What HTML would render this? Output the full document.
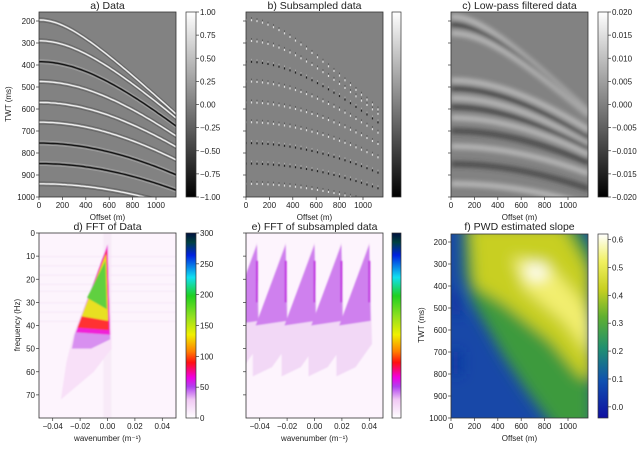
<!DOCTYPE html>
<html><head><meta charset="utf-8"><style>
html,body{margin:0;padding:0;background:#fff}
svg text{font-family:"Liberation Sans","DejaVu Sans",sans-serif;fill:#222}
</style></head><body>
<svg id="fig" width="640" height="458" viewBox="0 0 640 458" xmlns="http://www.w3.org/2000/svg">
<defs>
<linearGradient id="gGray" x1="0" y1="1" x2="0" y2="0"><stop offset="0" stop-color="#000"/><stop offset="1" stop-color="#fff"/></linearGradient>
<linearGradient id="gNcar" x1="0" y1="1" x2="0" y2="0">
<stop offset="0" stop-color="#fff"/><stop offset="0.1" stop-color="#f0c8f4"/><stop offset="0.17" stop-color="#b040f0"/><stop offset="0.22" stop-color="#f000e0"/><stop offset="0.3" stop-color="#ff1010"/><stop offset="0.36" stop-color="#ff8000"/><stop offset="0.45" stop-color="#f0f000"/><stop offset="0.55" stop-color="#90e020"/><stop offset="0.66" stop-color="#20d020"/><stop offset="0.76" stop-color="#10e0f0"/><stop offset="0.88" stop-color="#0020e0"/><stop offset="0.95" stop-color="#004040"/><stop offset="1" stop-color="#001040"/></linearGradient>
<linearGradient id="gSlope" x1="0" y1="1" x2="0" y2="0">
<stop offset="0" stop-color="#1010a0"/><stop offset="0.2" stop-color="#1050b0"/><stop offset="0.38" stop-color="#209070"/><stop offset="0.55" stop-color="#60b030"/><stop offset="0.7" stop-color="#c8d020"/><stop offset="0.85" stop-color="#f0f060"/><stop offset="1" stop-color="#ffffff"/></linearGradient>
<filter id="blurC" x="-10%" y="-10%" width="120%" height="120%"><feGaussianBlur stdDeviation="2.4"/></filter>
<filter id="blurF" x="-20%" y="-20%" width="140%" height="140%"><feGaussianBlur stdDeviation="7"/></filter>
<filter id="blurD"><feGaussianBlur stdDeviation="0.9"/></filter>
<clipPath id="cpA"><rect x="39" y="12" width="137" height="185"/></clipPath>
<clipPath id="cpB"><rect x="246" y="12" width="137" height="185"/></clipPath>
<clipPath id="cpC"><rect x="451" y="12" width="137" height="185"/></clipPath>
<clipPath id="cpD"><rect x="39" y="233" width="137" height="185"/></clipPath>
<clipPath id="cpE"><rect x="246" y="233" width="137" height="185"/></clipPath>
<clipPath id="cpF"><rect x="451" y="234" width="137" height="184"/></clipPath>
</defs>
</svg>
<script>
// ---- data ----
const evT0 = [195, 290, 385, 475, 570, 660, 755, 848, 940];
const evVel = [1.98, 2.05, 2.10, 2.15, 2.25, 2.32, 2.40, 2.50, 2.64];
const evPol = [1, 1, -1, 1, 1, 1, -1, -1, 1];
const lpT0 = [180, 215, 255, 470, 505, 550, 590, 640, 700, 770, 850, 940];
const lpVel = [2.0, 2.0, 2.05, 2.3, 2.2, 2.25, 2.3, 2.4, 2.5, 2.6, 2.6, 2.7];
const lpPol = [1, -1, 1, 1, -1, 1, -1, 1, -1, 1, -1, 1];
const offsetTicks = [0, 200, 400, 600, 800, 1000];
const twtTicks = [200, 300, 400, 500, 600, 700, 800, 900, 1000];
const freqTicks = [0, 10, 20, 30, 40, 50, 60, 70];
const kTicks = [-0.04, -0.02, 0.00, 0.02, 0.04];
const cbA = [1.00, 0.75, 0.50, 0.25, 0.00, -0.25, -0.50, -0.75, -1.00];
const cbC = [0.020, 0.015, 0.010, 0.005, 0.000, -0.005, -0.010, -0.015, -0.020];
const cbD = [0, 50, 100, 150, 200, 250, 300];
const cbF = [0.0, 0.1, 0.2, 0.3, 0.4, 0.5, 0.6];
const fkLayers = [
 {c:"#f8e0f8", p:[[0.001,4],[0.003,50],[-0.01,60],[-0.034,72],[-0.03,56],[-0.025,44]]},
 {c:"#d890f0", p:[[0,5],[0.002,46],[-0.012,50],[-0.026,50],[-0.024,44]]},
 {c:"#f020d8", p:[[0,5],[0.002,44],[-0.023,43]]},
 {c:"#ff3030", p:[[-0.0005,7],[0.001,42],[-0.022,41]]},
 {c:"#e8e020", p:[[-0.001,9],[0.0005,38],[-0.019,36]]},
 {c:"#60d040", p:[[-0.0015,12],[-0.0005,33],[-0.015,28]]}
];
const toothK = [-0.042, -0.021, 0.0, 0.0196, 0.040];
const slopeBlobs = [
 {c:"#3d9a3c", p:[[100,120],[1080,120],[1210,240],[1210,1060],[900,1060],[650,880],[450,720],[300,580],[180,470],[110,350]]},
 {c:"#c8cf22", p:[[160,120],[950,120],[1175,330],[1220,820],[1100,810],[850,650],[450,480],[200,400]]},
 {c:"#f2ee70", p:[[520,270],[820,290],[1100,460],[1200,560],[1200,720],[960,560],[620,410]]},
 {c:"#ffffff", p:[[620,305],[790,305],[830,365],[680,375]]},
 {c:"#1030a0", p:[[0,420],[90,420],[90,530],[0,530]]},
 {c:"#1030a0", p:[[0,700],[80,700],[80,800],[0,800]]}
];
const slopeRange = [-0.04, 0.62];

// ---- scales ----
const NS = "http://www.w3.org/2000/svg";
const svg = document.getElementById('fig');
function mk(tag, attrs, parent){const e=document.createElementNS(NS,tag);for(const k in attrs)e.setAttribute(k,attrs[k]);(parent||svg).appendChild(e);return e;}
function xOff(x0, o){return x0 + o*117/1000;}
function yTwt(y0, t){return y0 + 9 + (t-200)*0.22;}
function yTwtF(t){return 242 + (t-200)*0.22;}
function xK(x0, k){return x0 + 68.5 + k*1370;}
function yF(f){return 233 + f*185/80;}

function axesFrame(x, y, w, h, name){
  const r = mk('rect',{x:x,y:y,width:w,height:h,fill:'none',stroke:'#333','stroke-width':0.8});
  
  
}
function text(x, y, s, anchor, size, name, rot){
  const t = mk('text',{x:x,y:y,'font-size':size||8,'text-anchor':anchor||'middle'});
  if(rot) t.setAttribute('transform','rotate(-90 '+x+' '+y+')');
  t.textContent = s;
  
  
  return t;
}
function xticks(vals, fx, yb, fmt, name){
  vals.forEach(v=>{const x=fx(v);mk('line',{x1:x,x2:x,y1:yb,y2:yb+3,stroke:'#333','stroke-width':0.7});
  text(x, yb+11, fmt(v), 'middle', 8, name);});
}
function yticks(vals, fy, xl, fmt, labels, name){
  vals.forEach(v=>{const y=fy(v);mk('line',{x1:xl-3,x2:xl,y1:y,y2:y,stroke:'#333','stroke-width':0.7});
  if(labels) text(xl-4, y+3, fmt(v), 'end', 8, name);});
}
function colorbar(x, y, h, grad, vals, vmin, vmax, fmt, name){
  const r = mk('rect',{x:x,y:y,width:10,height:h,fill:'url(#'+grad+')',stroke:'#333','stroke-width':0.7});
  
  
  vals.forEach(v=>{const yy=y+h-(v-vmin)/(vmax-vmin)*h;
   mk('line',{x1:x+10,x2:x+13,y1:yy,y2:yy,stroke:'#333','stroke-width':0.7});
   text(x+14, yy+3, fmt(v), 'start', 8, name+'-label');});
}
function mfmt(v,d){const s=Math.abs(v).toFixed(d);return (v<0?'\u2212':'')+s;}
function curve(x0, y0, t0, v, dy){
  let d='';
  for(let o=0;o<=1180;o+=20){const t=Math.sqrt(t0*t0+(o/v)*(o/v));d+=(o?'L':'M')+xOff(x0,o).toFixed(1)+' '+(yTwt(y0,t)+dy).toFixed(1);}
  return d;
}

// ---- Panel a ----
mk('rect',{x:39,y:12,width:137,height:185,fill:'#828282'});
const gA = mk('g',{'clip-path':'url(#cpA)'});


evT0.forEach((t0,i)=>{
  const main = evPol[i]>0?'#eeeeee':'#151515', side = evPol[i]>0?'#505050':'#b0b0b0';
  mk('path',{d:curve(39,12,t0,evVel[i],-2),stroke:side,'stroke-width':0.9,fill:'none',opacity:0.6},gA);
  mk('path',{d:curve(39,12,t0,evVel[i],2),stroke:side,'stroke-width':0.9,fill:'none',opacity:0.6},gA);
  const p = mk('path',{d:curve(39,12,t0,evVel[i],0),stroke:main,'stroke-width':1.4,fill:'none'},gA);
  
  
});
axesFrame(39,12,137,185,'panel-a-axes');
text(107.5,9,'a) Data','middle',10.5,'panel-a-title');
xticks(offsetTicks,v=>xOff(39,v),197,v=>v,'x-tick-label');
yticks(twtTicks,v=>yTwt(12,v),39,v=>v,true,'y-tick-label');
text(107.5,220,'Offset (m)','middle',8,'x-axis-title');
text(11,104,'TWT (ms)','middle',8,'y-axis-title',true);
colorbar(186,12,185,'gGray',cbA,-1,1,v=>mfmt(v,2),'colorbar-a');

// ---- Panel b ----
mk('rect',{x:246,y:12,width:137,height:185,fill:'#828282'});
const gB = mk('g',{'clip-path':'url(#cpB)'});
evT0.forEach((t0,i)=>{
  for(let o=0;o<=1130;o+=47){
    const t=Math.sqrt(t0*t0+(o/evVel[i])*(o/evVel[i]));
    const x=xOff(246,o), y=yTwt(12,t);
    mk('rect',{x:x-0.5,y:y-3,width:1,height:1.5,fill:evPol[i]>0?'#5a5a5a':'#aaaaaa'},gB);
    const d = mk('rect',{x:x-0.6,y:y-1,width:1.2,height:2,fill:evPol[i]>0?'#dedede':'#222'},gB);
    
    
  }
});
axesFrame(246,12,137,185,'panel-b-axes');
text(314.5,9,'b) Subsampled data','middle',10.5,'panel-b-title');
xticks(offsetTicks,v=>xOff(246,v),197,v=>v,'x-tick-label');
yticks(twtTicks,v=>yTwt(12,v),246,v=>v,false,'y-tick');
text(314.5,220,'Offset (m)','middle',8,'x-axis-title');
mk('rect',{x:392,y:12,width:9,height:185,fill:'url(#gGray)',stroke:'#333','stroke-width':0.7});

// ---- Panel c ----
mk('rect',{x:451,y:12,width:137,height:185,fill:'#828282'});
const gC0 = mk('g',{'clip-path':'url(#cpC)'});
const gC = mk('g',{filter:'url(#blurC)'},gC0);
lpT0.forEach((t0,i)=>{
  const p = mk('path',{d:curve(451,12,t0,lpVel[i],0),stroke:lpPol[i]>0?'#cfcfcf':'#333333','stroke-width':5.5,fill:'none',opacity:0.7},gC);
  
  
});
axesFrame(451,12,137,185,'panel-c-axes');
text(519.5,9,'c) Low-pass filtered data','middle',10.5,'panel-c-title');
xticks(offsetTicks,v=>xOff(451,v),197,v=>v,'x-tick-label');
yticks(twtTicks,v=>yTwt(12,v),451,v=>v,false,'y-tick');
text(519.5,220,'Offset (m)','middle',8,'x-axis-title');
colorbar(598,12,185,'gGray',cbC,-0.02,0.02,v=>mfmt(v,3),'colorbar-c');

// ---- Panel d ----
mk('rect',{x:39,y:233,width:137,height:185,fill:'#fdf4fd'});
const gD0 = mk('g',{'clip-path':'url(#cpD)'});
const gD = mk('g',{filter:'url(#blurD)'},gD0);
mk('rect',{x:xK(39,-0.003),y:233,width:8,height:185,fill:'#f8eaf8'},gD);
[10,14,18,22,25,30,34,38].forEach(f=>mk('rect',{x:39,y:yF(f),width:137,height:1,fill:'#f2dcf4',opacity:0.6},gD));
fkLayers.forEach((L,i)=>{
  const pts=L.p.map(q=>xK(39,q[0]).toFixed(1)+','+yF(q[1]).toFixed(1)).join(' ');
  const pg = mk('polygon',{points:pts,fill:L.c},gD);
  
  
});
axesFrame(39,233,137,185,'panel-d-axes');
text(107.5,230,'d) FFT of Data','middle',10.5,'panel-d-title');
xticks(kTicks,v=>xK(39,v),418,v=>mfmt(v,2),'x-tick-label');
yticks(freqTicks,yF,39,v=>v,true,'y-tick-label');
text(107.5,441,'wavenumber (m\u207B\u00B9)','middle',8,'x-axis-title');
text(20,325,'frequency (Hz)','middle',8,'y-axis-title',true);
colorbar(186,233,185,'gNcar',cbD,0,300,v=>v,'colorbar-d');

// ---- Panel e ----
mk('rect',{x:246,y:233,width:137,height:185,fill:'#fdf4fd'});
const gE0 = mk('g',{'clip-path':'url(#cpE)'});
const gE = mk('g',{filter:'url(#blurD)'},gE0);
toothK.forEach((k,i)=>{
  const big=[[k,4],[k+0.002,48],[k-0.01,58],[k-0.024,62],[k-0.024,44]];
  const mid=[[k,5],[k+0.001,38],[k-0.022,40]];
  mk('polygon',{points:big.map(q=>xK(246,q[0]).toFixed(1)+','+yF(q[1]).toFixed(1)).join(' '),fill:'#f2d8f6'},gE);
  const t = mk('polygon',{points:mid.map(q=>xK(246,q[0]).toFixed(1)+','+yF(q[1]).toFixed(1)).join(' '),fill:'#cf80ee'},gE);
  
  
  mk('rect',{x:xK(246,k)-1,y:yF(12),width:2,height:yF(30)-yF(12),fill:'#c030e0'},gE);
});
axesFrame(246,233,137,185,'panel-e-axes');
text(314.5,230,'e) FFT of subsampled data','middle',10.5,'panel-e-title');
xticks(kTicks,v=>xK(246,v),418,v=>mfmt(v,2),'x-tick-label');
yticks(freqTicks,yF,246,v=>v,false,'y-tick');
text(314.5,441,'wavenumber (m\u207B\u00B9)','middle',8,'x-axis-title');
mk('rect',{x:392,y:233,width:9,height:185,fill:'url(#gNcar)',stroke:'#333','stroke-width':0.7});

// ---- Panel f ----
mk('rect',{x:451,y:234,width:137,height:184,fill:'#1848a8'});
const gF0 = mk('g',{'clip-path':'url(#cpF)'});
const gF = mk('g',{filter:'url(#blurF)'},gF0);
slopeBlobs.forEach((B,i)=>{
  const pg = mk('polygon',{points:B.p.map(q=>xOff(451,q[0]).toFixed(1)+','+yTwtF(q[1]).toFixed(1)).join(' '),fill:B.c},gF);
  
  
});
axesFrame(451,234,137,184,'panel-f-axes');
text(519.5,230,'f) PWD estimated slope','middle',10.5,'panel-f-title');
xticks(offsetTicks,v=>xOff(451,v),418,v=>v,'x-tick-label');
yticks(twtTicks,yTwtF,451,v=>v,true,'y-tick-label');
text(519.5,441,'Offset (m)','middle',8,'x-axis-title');
text(424,325,'TWT (ms)','middle',8,'y-axis-title',true);
colorbar(598,234,184,'gSlope',cbF,slopeRange[0],slopeRange[1],v=>v.toFixed(1),'colorbar-f');
</script>
</body></html>
